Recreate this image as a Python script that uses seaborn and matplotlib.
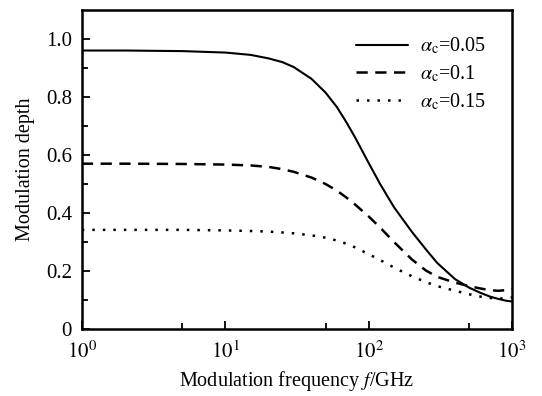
import numpy as np
import pandas as pd
import matplotlib
matplotlib.use("Agg")
import matplotlib.pyplot as plt
import seaborn as sns

freq = [1, 2, 5, 10, 15, 20, 25, 30, 40, 50, 60, 70, 80, 100, 120, 150, 200,
        250, 300, 400, 500, 600, 700, 800, 900, 1000]
depth_005 = [0.960, 0.960, 0.958, 0.953, 0.945, 0.933, 0.920, 0.903, 0.862, 0.815,
             0.765, 0.712, 0.662, 0.572, 0.500, 0.420, 0.335, 0.275, 0.228, 0.172,
             0.143, 0.125, 0.112, 0.104, 0.098, 0.095]
depth_01 = [0.570, 0.570, 0.569, 0.567, 0.564, 0.559, 0.551, 0.542, 0.522, 0.500,
            0.477, 0.453, 0.430, 0.388, 0.350, 0.300, 0.240, 0.202, 0.180, 0.160,
            0.148, 0.140, 0.134, 0.132, 0.134, 0.138]
depth_015 = [0.342, 0.342, 0.342, 0.340, 0.338, 0.336, 0.333, 0.330, 0.323, 0.315,
             0.305, 0.294, 0.282, 0.258, 0.238, 0.212, 0.182, 0.162, 0.148, 0.132,
             0.120, 0.112, 0.107, 0.105, 0.106, 0.109]
labels = [r"$\alpha_{\rm c}$=0.05", r"$\alpha_{\rm c}$=0.1", r"$\alpha_{\rm c}$=0.15"]
xtick_vals = [1, 10, 100, 1000]
xtick_labels = [r"$10^0$", r"$10^1$", r"$10^2$", r"$10^3$"]
ytick_vals = [0, 0.2, 0.4, 0.6, 0.8, 1.0]
ytick_labels = ["0", "0.2", "0.4", "0.6", "0.8", "1.0"]

sns.set_style("ticks", {"axes.edgecolor": "black", "xtick.color": "black",
                        "ytick.color": "black", "text.color": "black",
                        "axes.labelcolor": "black"})
plt.rcParams["font.family"] = ["Liberation Serif", "DejaVu Serif"]
plt.rcParams["mathtext.fontset"] = "stix"

fig = plt.figure(figsize=(5.42, 3.96), dpi=100)
ax = fig.add_axes([0.151, 0.169, 0.794, 0.806])

styles = ["-", (0, (4.5, 3)), (0, (1, 3.2))]
widths = [1.5, 1.8, 1.8]
for vals, lab, ls, lw in zip([depth_005, depth_01, depth_015], labels, styles, widths):
    df = pd.DataFrame({"f": freq, "d": vals})
    sns.lineplot(data=df, x="f", y="d", ax=ax, color="black", label=lab,
                 linestyle=ls, linewidth=lw)

ax.set_xscale("log")
ax.set_xlim(1, 1000)
ax.set_ylim(0, 1.1)
ax.set_xticks(xtick_vals)
ax.set_xticklabels(xtick_labels)
ax.xaxis.set_minor_locator(matplotlib.ticker.FixedLocator([5, 50, 500]))
ax.xaxis.set_minor_formatter(matplotlib.ticker.NullFormatter())
ax.set_yticks(ytick_vals)
ax.set_yticklabels(ytick_labels)
ax.yaxis.set_minor_locator(matplotlib.ticker.FixedLocator([0.1, 0.3, 0.5, 0.7, 0.9]))
ax.tick_params(which="major", direction="in", length=6, width=1.3, labelsize=15,
               colors="black")
ax.tick_params(axis="x", which="major", pad=9)
ax.tick_params(axis="y", which="major", pad=7)
ax.tick_params(which="minor", direction="in", length=4, width=1.3, colors="black")
for s in ax.spines.values():
    s.set_linewidth(1.8)
    s.set_color("black")
ax.set_xlabel(r"Modulation frequency $\it{f}$/GHz", fontsize=14.5, labelpad=4,
              color="black")
ax.set_ylabel("Modulation depth", fontsize=14.5, labelpad=8, color="black")

leg = ax.legend(loc="upper right", frameon=False, fontsize=14.5, handlelength=2.6,
                handletextpad=0.6, labelspacing=0.35, borderaxespad=0.9)

fig.savefig("out.png", dpi=100)
